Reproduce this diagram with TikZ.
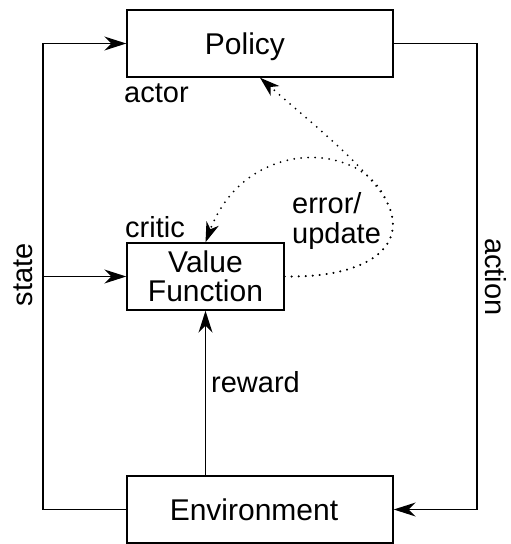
\documentclass[tikz,border=0pt]{standalone}
\usepackage{fontspec}
\setmainfont{Liberation Sans}
\usetikzlibrary{arrows.meta}
\begin{document}
\begin{tikzpicture}[x=1pt,y=-1pt,
  every node/.style={font=\fontsize{29}{28}\selectfont, inner sep=0pt},
  boxbase/.style={draw, line width=1.4pt, minimum height=67pt, font=\fontsize{30}{28.5}\selectfont},
  block/.style={boxbase, text height=21.5pt, text depth=0pt},
  wire/.style={line width=1.4pt, -{Stealth[length=22pt,width=14pt,inset=7pt]}},
  dotline/.style={line width=2pt, line cap=round, dash pattern=on 0pt off 7pt,
    -{Stealth[length=20pt,width=13pt,inset=6pt]}},
  tag/.style={anchor=base west}]
\useasboundingbox (0,0) rectangle (511,544);

% boxes
\node[block, minimum width=266pt] (pol) at (260,43.5) {Policy\kern30pt};
\node[boxbase, minimum width=157pt, align=center] (vf) at (205.5,276.5) {Value\\Function};
\node[block, minimum width=266pt] (env) at (260,509.5) {Environment\kern12pt};

% corner points of the outer loop
\coordinate (lbot) at (43,509.5);
\coordinate (ltop) at (43,43.5);
\coordinate (rtop) at (477,43.5);
\coordinate (rbot) at (477,509.5);

% state feedback
\draw[wire] (env.west) -- (lbot) -- (ltop) -- (pol.west);
\draw[wire] (vf.west -| lbot) -- (vf.west);
% action
\draw[wire] (pol.east) -- (rtop) -- (rbot) -- (env.east);
% reward
\draw[wire] (env.north -| vf.south) -- (vf.south);

% error / update signals
\coordinate (loop) at (386,200);
\draw[dotline] (vf.east) .. controls (370,278) and (410,245) .. (loop)
  .. controls (365,165) and (300,113) .. (pol.south);
\draw[dotline] (vf.east) .. controls (370,278) and (410,245) .. (loop)
  .. controls (360,140) and (245,138) .. (vf.north);

% labels
\node[tag] (actor) at (124,102) {actor};
\node[tag] (critic) at (125,237) {critic};
\node[tag] (rew) at (211,392) {reward};
\node[tag] (err1) at (292,213) {error/};
\node[tag] (err2) at (292,243) {update};
\node[rotate=90, anchor=base] (st) at (32,275) {state};
\node[rotate=-90, anchor=base] (act) at (485,277) {action};
\end{tikzpicture}
\end{document}
